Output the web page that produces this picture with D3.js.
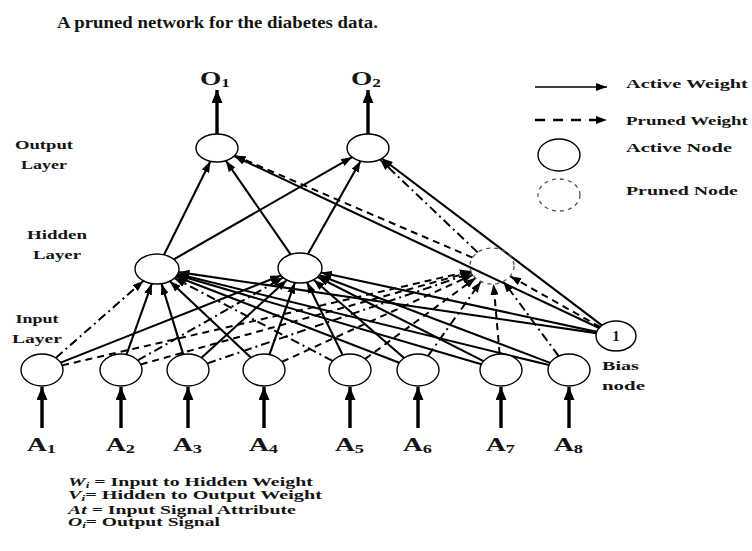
<!DOCTYPE html>
<html><head><meta charset="utf-8">
<script src="https://cdn.jsdelivr.net/npm/d3@7"></script>
<style>
body{margin:0;background:#fff}
svg{display:block}
text{font-family:"Liberation Serif","DejaVu Serif",serif;font-weight:bold;fill:#141414}
</style>
</head><body><svg width="752" height="551"></svg>
<script>
// ---------- data ----------
const titleText = "A pruned network for the diabetes data.";
const inputs = ["A1","A2","A3","A4","A5","A6","A7","A8"];
const inputSubs = ["1","2","3","4","5","6","7","8"];
const hidden = ["H1","H2","H3"];
const hiddenStatus = ["active","active","pruned"];
const outputs = ["O1","O2"];
const outputSubs = ["1","2"];
const biasNode = "B";
// connections (source -> target) and their status
const edgeFrom = ["H1","H1","H2","H2","H3","H3",
                  "B","B","B","B","B",
                  "A1","A1","A1","A2","A2","A2","A3","A3","A3","A4","A4","A4",
                  "A5","A5","A5","A6","A6","A6","A7","A7","A7","A8","A8","A8"];
const edgeTo   = ["O1","O2","O1","O2","O1","O2",
                  "O1","O2","H1","H2","H3",
                  "H1","H2","H3","H1","H2","H3","H1","H2","H3","H1","H2","H3",
                  "H1","H2","H3","H1","H2","H3","H1","H2","H3","H1","H2","H3"];
const edgeStatus = ["active","active","active","active","pruned","pruned",
                  "active","active","active","active","pruned",
                  "pruned","active","pruned","active","pruned","pruned","active","active","pruned","active","active","pruned",
                  "pruned","active","pruned","active","active","pruned","active","active","pruned","active","active","pruned"];
const layerLabels = [["Output","Layer"],["Hidden","Layer"],["Input","Layer"]];
const legendLabels = ["Active Weight","Pruned Weight","Active Node","Pruned Node"];
const noteSymbols = ["W","V","At","O"];
const noteSubs = ["i","i","","i"];
const noteTexts = [" = Input to Hidden Weight","= Hidden to Output Weight"," = Input Signal Attribute","= Output Signal"];

// ---------- layout (scales) ----------
const nodeIds = [...inputs, ...hidden, ...outputs, biasNode];
const X = d3.scaleOrdinal().domain(nodeIds)
  .range([42,121,188,264,350,418,501,569, 157,300,492, 217,368, 616]);
const Y = d3.scaleOrdinal().domain(nodeIds)
  .range([370,370,370,370,370,370,370,370, 269,268,266, 148,148, 336]);
const RX = d3.scaleOrdinal().domain(nodeIds)
  .range([21,21,21,21,21,21,21,21, 22,22,22, 21,21, 20]);
const RY = d3.scaleOrdinal().domain(nodeIds)
  .range([16,16,16,16,16,16,16,16, 15,15,18, 14,14, 15]);

const svg = d3.select("svg");
const defs = svg.append("defs");
function marker(id, w, h){
  defs.append("marker").attr("id",id).attr("markerUnits","userSpaceOnUse")
    .attr("markerWidth",w).attr("markerHeight",h).attr("refX",w).attr("refY",h/2)
    .attr("orient","auto")
    .append("path").attr("d",`M0,0L${w},${h/2}L0,${h}Z`).attr("fill","#000");
}
marker("arr",11,8);
marker("big",13,11);

function fit(sel, w){
  const n = sel.node(); const L = n.getComputedTextLength();
  const x = +sel.attr("x");
  sel.attr("transform",`translate(${x},0) scale(${w/L},1) translate(${-x},0)`);
}

// title
fit(svg.append("text").attr("x",57).attr("y",28).attr("font-size",16).text(titleText), 321);

// edges
function clip(id, dx, dy){
  const rx = RX(id), ry = RY(id);
  const L = Math.hypot(dx,dy); const ux = dx/L, uy = dy/L;
  const t = 1/Math.sqrt((ux/rx)**2 + (uy/ry)**2);
  return [X(id)+ux*t, Y(id)+uy*t];
}
const edges = edgeFrom.map((f,i)=>({f, t:edgeTo[i], s:edgeStatus[i], i}));
let pc = 0;
edges.forEach(e=>{ if(e.s==="pruned"){ e.k = pc++ % 2; } });
const eg = svg.append("g");
edges.forEach(e=>{
  const dx = X(e.t)-X(e.f), dy = Y(e.t)-Y(e.f);
  const [x1,y1] = clip(e.f, dx, dy);
  const [x2,y2] = clip(e.t, -dx, -dy);
  const ln = eg.append("line").attr("x1",x1).attr("y1",y1).attr("x2",x2).attr("y2",y2)
    .attr("stroke","#000").attr("stroke-width",2.1).attr("marker-end","url(#arr)");
  if(e.s==="pruned"){
    ln.attr("stroke-dasharray", e.k===0 ? "7,5" : "9,4,2,4").attr("stroke-width",2);
  }
});

// input arrows and output arrows
inputs.forEach(id=>{
  svg.append("line").attr("x1",X(id)).attr("x2",X(id)).attr("y1",428).attr("y2",Y(id)+RY(id)+1)
    .attr("stroke","#000").attr("stroke-width",3.4).attr("marker-end","url(#big)");
});
outputs.forEach(id=>{
  svg.append("line").attr("x1",X(id)).attr("x2",X(id)).attr("y1",Y(id)-RY(id)).attr("y2",90)
    .attr("stroke","#000").attr("stroke-width",3.4).attr("marker-end","url(#big)");
});

// nodes
const allNodes = nodeIds.map(id=>({id, pruned: hidden.includes(id) && hiddenStatus[hidden.indexOf(id)]==="pruned"}));
svg.append("g").selectAll("ellipse").data(allNodes).join("ellipse")
  .attr("cx",d=>X(d.id)).attr("cy",d=>Y(d.id)).attr("rx",d=>RX(d.id)).attr("ry",d=>RY(d.id))
  .attr("fill",d=>d.pruned?"none":"#fff")
  .attr("stroke",d=>d.pruned?"#555":"#000")
  .attr("stroke-width",d=>d.pruned?1.3:1.4)
  .attr("stroke-dasharray",d=>d.pruned?"4,4":null);
svg.append("text").attr("x",X(biasNode)).attr("y",Y(biasNode)+5).attr("text-anchor","middle")
  .attr("font-size",15).text("1");

// labels for inputs / outputs
inputs.forEach((id,i)=>{
  const t = svg.append("text").attr("x",X(id)-15).attr("y",451).attr("font-size",18);
  t.append("tspan").text("A");
  t.append("tspan").attr("font-size",12).attr("dy",2).text(inputSubs[i]);
  fit(t, 29);
});
outputs.forEach((id,i)=>{
  const t = svg.append("text").attr("x",X(id)-17).attr("y",85).attr("font-size",19);
  t.append("tspan").text("O");
  t.append("tspan").attr("font-size",12).attr("dy",2).text(outputSubs[i]);
  fit(t, 30);
});

// layer labels
const layerPos = [[44,145,58,46],[57,235,60,48],[37,319,43,50]];
layerLabels.forEach((pair,i)=>{
  const [cx,cy,w1,w2] = layerPos[i];
  fit(svg.append("text").attr("x",cx).attr("y",cy+4).attr("text-anchor","middle").attr("font-size",12).text(pair[0]), w1);
  fit(svg.append("text").attr("x",cx).attr("y",cy+24).attr("text-anchor","middle").attr("font-size",12).text(pair[1]), w2);
});
fit(svg.append("text").attr("x",602).attr("y",370).attr("font-size",12).text("Bias"),37);
fit(svg.append("text").attr("x",602).attr("y",390).attr("font-size",12).text("node"),43);

// legend (top right)
svg.append("line").attr("x1",535).attr("x2",607).attr("y1",87).attr("y2",87)
  .attr("stroke","#000").attr("stroke-width",1.6).attr("marker-end","url(#arr)");
svg.append("line").attr("x1",535).attr("x2",607).attr("y1",120).attr("y2",120)
  .attr("stroke","#000").attr("stroke-width",2.4).attr("stroke-dasharray","10,8").attr("marker-end","url(#arr)");
svg.append("ellipse").attr("cx",559).attr("cy",155).attr("rx",21).attr("ry",16)
  .attr("fill","#fff").attr("stroke","#000").attr("stroke-width",1.4);
svg.append("ellipse").attr("cx",559).attr("cy",195).attr("rx",21).attr("ry",16)
  .attr("fill","none").attr("stroke","#555").attr("stroke-width",1.3).attr("stroke-dasharray","4,4");
const legY = [83,120,147,190], legW = [122,122,106,112];
legendLabels.forEach((s,i)=>{
  fit(svg.append("text").attr("x",626).attr("y",legY[i]+5).attr("font-size",13).text(s), legW[i]);
});

// notes (bottom)
const noteY = [482,495,510,522], noteW = [245,254,228,152];
noteSymbols.forEach((s,i)=>{
  const t = svg.append("text").attr("x",68).attr("y",noteY[i]+4).attr("font-size",12);
  t.append("tspan").attr("font-style","italic").text(s);
  if(noteSubs[i]) t.append("tspan").attr("font-style","italic").attr("font-size",8).attr("dy",2).text(noteSubs[i]);
  t.append("tspan").attr("dy",noteSubs[i]?-2:0).text(noteTexts[i]);
  fit(t, noteW[i]);
});
</script>
</body></html>
